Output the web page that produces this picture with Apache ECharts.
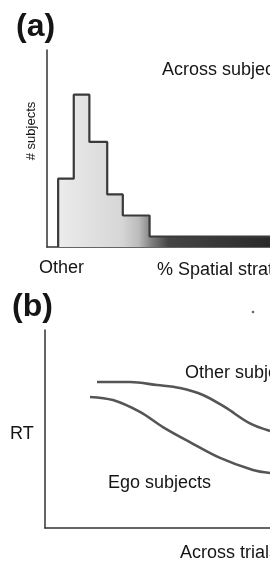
<!DOCTYPE html>
<html>
<head>
<meta charset="utf-8">
<title>Spatial strategy / RT</title>
<script src="https://cdn.jsdelivr.net/npm/echarts@6/dist/echarts.min.js"></script>
<style>
  html, body { margin: 0; padding: 0; background: #fff; }
  #main { width: 270px; height: 564px; }
</style>
</head>
<body>
<div id="main"></div>
<script>
// (a) histogram: bin edges (% spatial strategy) and # subjects per bin
var binEdges = [5, 12, 19, 27, 34, 46, 100]
var binCounts = [13, 29, 20, 10, 6, 2]

// (b) RT across trials
var otherTrials = [23.1, 37.8, 49.8, 60, 70.2, 80, 91.1, 100]
var otherRT = [73.7, 73.7, 72.2, 70.7, 67.2, 61, 52.8, 49]
var egoTrials = [20, 30.2, 42.2, 52.4, 64.4, 77.8, 92.4, 100]
var egoRT = [66.2, 64.6, 58.6, 51, 43.4, 35.4, 29.3, 27.8]

// step outline of the histogram
var histData = [[binEdges[0], 0]]
for (var i = 0; i < binCounts.length; i++) {
  histData.push([binEdges[i], binCounts[i]])
}
histData.push([binEdges[binEdges.length - 1], binCounts[binCounts.length - 1]])

function pairs (xs, ys) {
  return xs.map(function (x, i) { return [x, ys[i]] })
}

var font = '"Liberation Sans", Arial, sans-serif'
var ink = '#151515'
function label (text, x, y, size, extra) {
  var el = {
    type: 'text',
    x: x,
    y: y,
    style: {
      text: text,
      font: (extra && extra.bold ? 'bold ' : '') + size + 'px ' + font,
      fill: ink,
      textAlign: (extra && extra.align) || 'left',
      verticalAlign: 'middle',
      textVerticalAlign: 'middle'
    }
  }
  if (extra && extra.rotation) el.rotation = extra.rotation
  return el
}

var axisLine = { show: true, lineStyle: { color: '#333', width: 1.5 } }
function plainAxis (gridIndex, max) {
  return {
    type: 'value', gridIndex: gridIndex, min: 0, max: max,
    axisLine: axisLine, axisTick: { show: false },
    axisLabel: { show: false }, splitLine: { show: false }
  }
}

function curve (xs, ys) {
  return {
    type: 'line',
    xAxisIndex: 1,
    yAxisIndex: 1,
    smooth: 0.35,
    data: pairs(xs, ys),
    showSymbol: false,
    lineStyle: { color: '#555', width: 2.6 }
  }
}

var myChart = echarts.init(document.getElementById('main'))

var option = {
  backgroundColor: '#fff',
  animation: false,
  grid: [
    { left: 47, right: 0, top: 50, bottom: 317 },
    { left: 45, right: 0, top: 330, bottom: 36 }
  ],
  xAxis: [plainAxis(0, 100), plainAxis(1, 100)],
  yAxis: [plainAxis(0, 37.5), plainAxis(1, 100)],
  series: [
    {
      type: 'line',
      xAxisIndex: 0,
      yAxisIndex: 0,
      step: 'end',
      data: histData,
      showSymbol: false,
      lineStyle: { color: '#3a3a3a', width: 2.2 },
      areaStyle: {
        opacity: 1,
        color: new echarts.graphic.LinearGradient(0, 0, 1, 0, [
          { offset: 0, color: '#ececec' },
          { offset: 0.3, color: '#d6d6d6' },
          { offset: 0.38, color: '#bcbcbc' },
          { offset: 0.44, color: '#808080' },
          { offset: 0.52, color: '#454545' },
          { offset: 1, color: '#2a2a2a' }
        ])
      }
    },
    curve(otherTrials, otherRT),
    curve(egoTrials, egoRT)
  ],
  graphic: [
    label('(a)', 16, 27, 32, { bold: true }),
    label('Across subjects', 162, 70, 18),
    label('# subjects', 31, 131, 13, { align: 'center', rotation: Math.PI / 2 }),
    label('Other', 39, 268, 18),
    label('% Spatial strategy', 157, 270, 18),
    label('(b)', 12, 307, 32, { bold: true }),
    label('Other subjects', 185, 373, 18),
    label('RT', 10, 434, 18),
    label('Ego subjects', 108, 483, 18),
    label('Across trials', 180, 553, 18),
    { type: 'circle', shape: { cx: 253, cy: 312, r: 1.3 }, style: { fill: '#666' } }
  ]
}

myChart.setOption(option)
</script>
</body>
</html>
